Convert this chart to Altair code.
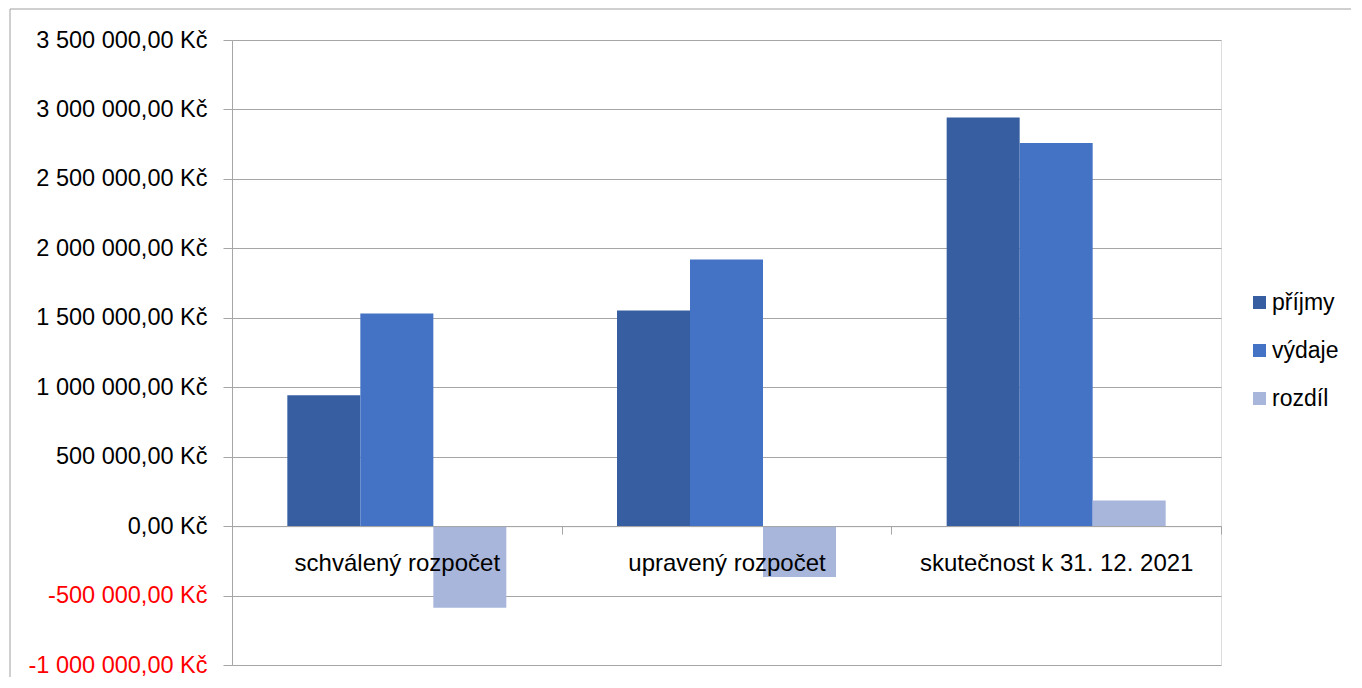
import altair as alt
import pandas as pd

categories = ["schválený rozpočet", "upravený rozpočet", "skutečnost k 31. 12. 2021"]
series = ["příjmy", "výdaje", "rozdíl"]
prijmy = [942000, 1552000, 2942000]
vydaje = [1530000, 1919000, 2758000]
rozdil = [-588000, -367000, 184000]
colors = ["#365EA1", "#4472C4", "#A8B6DC"]
y_ticks = [-1000000, -500000, 0, 500000, 1000000, 1500000, 2000000, 2500000, 3000000, 3500000]

rows = []
for i, c in enumerate(categories):
    for s, vals in zip(series, [prijmy, vydaje, rozdil]):
        rows.append({"kategorie": c, "série": s, "hodnota": vals[i]})
df = pd.DataFrame(rows)

W, H = 989, 625
FONT = "Liberation Sans"
GRID = "#a6a6a6"

label_expr = ("replace(replace(replace(format(datum.value, ',.2f'), regexp(',', 'g'), ' '), '.', ','), '\u2212', '-') + ' Kč'")

bars = alt.Chart(df).mark_bar(clip=False).encode(
    x=alt.X("kategorie:N", sort=categories,
            scale=alt.Scale(paddingInner=0, paddingOuter=0),
            axis=alt.Axis(title=None, orient="bottom", offset=-(H * 1.0 / 4.5),
                          tickBand="extent", tickSize=8, tickColor=GRID,
                          domainColor=GRID, labelAngle=0, labelFont=FONT,
                          labelFontSize=24, labelColor="#000000", labelPadding=17,
                          labelLimit=0, zindex=1, grid=False)),
    xOffset=alt.XOffset("série:N", sort=series,
                        scale=alt.Scale(paddingInner=0, paddingOuter=0.758)),
    y=alt.Y("hodnota:Q",
            scale=alt.Scale(domain=[-1000000, 3500000], nice=False, zero=False),
            axis=alt.Axis(title=None, values=y_ticks, labelExpr=label_expr,
                          labelFont=FONT, labelFontSize=23.5, labelLimit=0,
                          labelColor={"condition": {"test": "datum.value < 0", "value": "#ff0000"},
                                      "value": "#000000"},
                          labelPadding=16, tickSize=9, tickColor=GRID,
                          domainColor=GRID, gridColor=GRID, grid=True)),
    color=alt.Color("série:N", sort=series,
                    scale=alt.Scale(domain=series, range=colors),
                    legend=alt.Legend(title=None, orient="none", legendX=1016, legendY=251,
                                      symbolType="square", symbolSize=170,
                                      symbolStrokeWidth=0, labelFont=FONT,
                                      labelFontSize=23, labelColor="#000000",
                                      labelOffset=1, rowPadding=24)),
)

border = alt.Chart(alt.Data(values=[{}])).mark_rect(
    fill=None, stroke="#a0a0a0", strokeWidth=1, clip=False
).encode(
    x=alt.value(-222), x2=alt.value(1200),
    y=alt.value(-31), y2=alt.value(700),
)

chart = alt.layer(border, bars).properties(
    width=W, height=H,
    autosize=alt.AutoSizeParams(type="none"),
    padding={"left": 224, "top": 32, "right": 130, "bottom": 12},
).configure_view(stroke=None).configure(background="#ffffff")

chart.save("out.html", embed_options={"renderer": "svg", "actions": False})
